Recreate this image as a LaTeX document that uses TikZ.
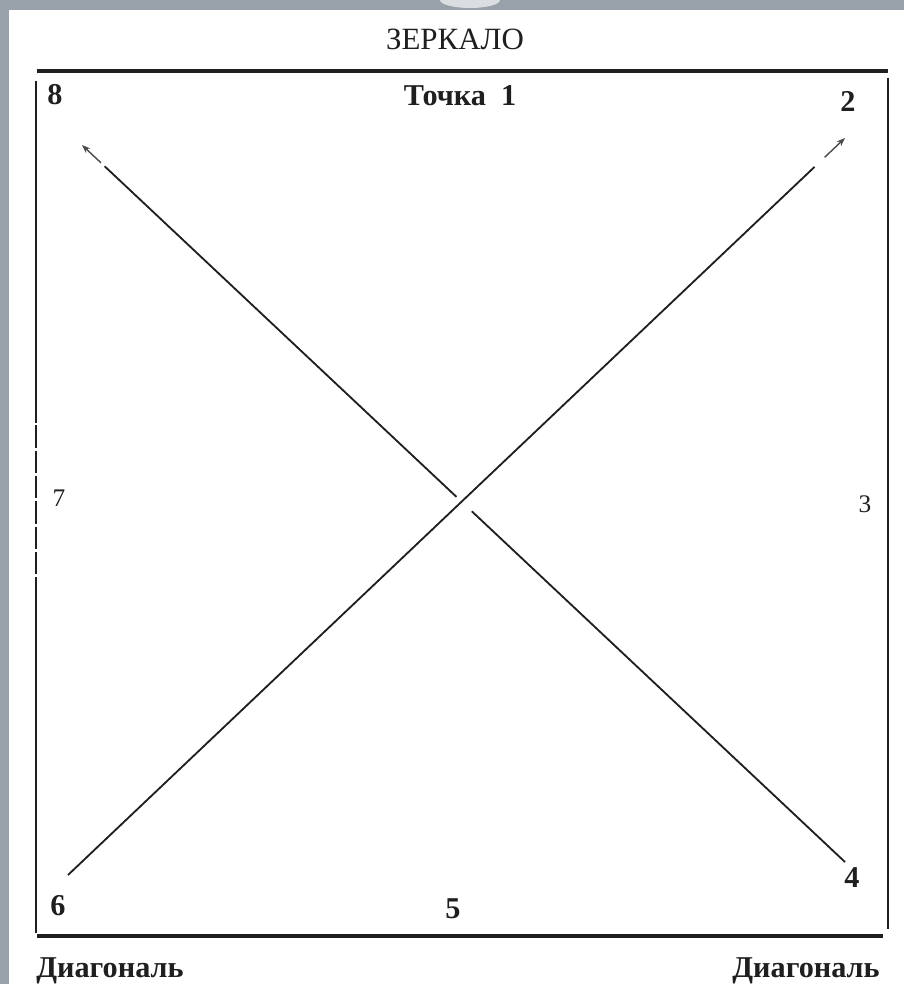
\documentclass[tikz,border=0pt]{standalone}
\usepackage{fontspec}
\setmainfont{Liberation Serif}
\usetikzlibrary{arrows.meta, calc}
\definecolor{cchrome}{RGB}{152,161,169}
\definecolor{cink}{gray}{0.12}

\begin{document}
\begin{tikzpicture}[
    x=0.025cm, y=-0.025cm,
    title/.style={anchor=base, inner sep=0pt, font=\fontsize{22}{24}\selectfont, text=cink},
    num/.style={anchor=base, inner sep=0pt, font=\fontsize{21.5}{24}\selectfont\bfseries, text=cink},
    thin num/.style={anchor=base, inner sep=0pt, font=\fontsize{18}{20}\selectfont, text=cink},
    border/.style={draw=cink, line width=1.6pt},
    diag/.style={draw=cink, line width=1.3pt},
    tipseg/.style={draw=cink!80, line width=1.0pt, -{Stealth[length=6pt, width=4.5pt]}}
]
\useasboundingbox (0,0) rectangle (904,984);
\fill[white] (0,0) rectangle (904,984);
\fill[cchrome] (0,0) rectangle (904,10);
\fill[cchrome] (0,0) rectangle (9,984);
\fill[cchrome!35] (470,0) ellipse (30 and 8);

\node[title] (mirror) at (455,50) {ЗЕРКАЛО};
\node[num] (p1) at (460,106) {Точка\ \ 1};
\node[num] (p2) at (848,112) {2};
\node[thin num] (p3) at (865,512) {3};
\node[num] (p4) at (852,887) {4};
\node[num] (p5) at (453,918) {5};
\node[num] (p6) at (58,915) {6};
\node[thin num] (p7) at (59,506) {7};
\node[num] (p8) at (55,105) {8};
\node[num] (dleft) at (110,977) {Диагональ};
\node[num] (dright) at (806,977) {Диагональ};

\draw[border, line width=2.2pt] (37,71) -- (888,71);
\draw[border, line width=2.2pt] (37,936) -- (883,936);
\draw[border] (888,78) -- (888,929);
\draw[border] (36,81) -- (36,400);
\draw[border, dash pattern=on 16pt off 2pt] (36,400) -- (36,585);
\draw[border] (36,585) -- (36,933);

\coordinate (a6) at (68,875);
\coordinate (a2) at (845,138);
\coordinate (b8) at (82,145);
\coordinate (b4) at (845,862);
\coordinate (x) at (461.6,501.7);

\draw[diag] (a6) -- ($(a2)!1.05cm!(a6)$);
\draw[tipseg] ($(a2)!0.7cm!(a6)$) -- (a2);
\draw[tipseg] ($(b8)!0.65cm!(b4)$) -- (b8);
\draw[diag] ($(b8)!0.775cm!(b4)$) -- ($(x)!0.175cm!(b8)$);
\draw[diag] ($(x)!0.35cm!(b4)$) -- (b4);
\end{tikzpicture}
\end{document}
